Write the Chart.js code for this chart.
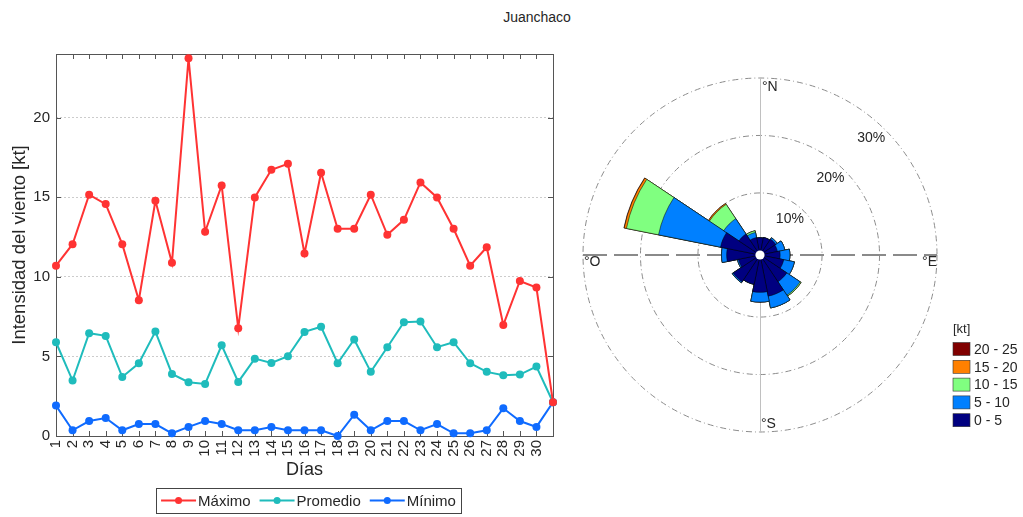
<!DOCTYPE html>
<html>
<head>
<meta charset="utf-8">
<script src="https://cdn.jsdelivr.net/npm/chart.js@4.4.1/dist/chart.umd.min.js"></script>
<style>
  body { margin: 0; background: #fff; width: 1023px; height: 517px; overflow: hidden; position: relative;
         font-family: "Liberation Sans", Arial, sans-serif; color: #262626; }
  #titulo { position: absolute; left: 437px; width: 200px; top: 9px; text-align: center; font-size: 14px; line-height: 17px; }
  #lineas { position: absolute; left: 0; top: 0; }
  #rosa { position: absolute; left: 560px; top: 0; }
</style>
</head>
<body>
<div id="titulo">Juanchaco</div>
<canvas id="lineas" width="575" height="517"></canvas>
<canvas id="rosa" width="463" height="517"></canvas>
<script>
// Datos diarios de viento [kt]
const dias = ['1','2','3','4','5','6','7','8','9','10','11','12','13','14','15','16','17','18','19','20',
  '21','22','23','24','25','26','27','28','29','30','31'];
const etiquetasDias = ['1','2','3','4','5','6','7','8','9','10','11','12','13','14','15','16','17','18','19','20',
  '21','22','23','24','25','26','27','28','29','30',''];
const maximo = [10.7, 12.05, 15.16, 14.57, 12.05, 8.53, 14.78, 10.88, 23.73, 12.83, 15.74, 6.77, 14.99, 16.73, 17.1,
  11.47, 16.54, 13.02, 13.02, 15.16, 12.64, 13.58, 15.93, 14.99, 13.02, 10.7, 11.86, 6.98, 9.74, 9.33, 2.12];
const promedio = [5.89, 3.48, 6.46, 6.29, 3.71, 4.57, 6.56, 3.9, 3.38, 3.27, 5.7, 3.4, 4.86, 4.59, 5.01,
  6.54, 6.86, 4.57, 6.06, 4.03, 5.58, 7.15, 7.19, 5.58, 5.89, 4.57, 4.03, 3.82, 3.86, 4.36, 2.12];
const minimo = [1.91, 0.36, 0.94, 1.13, 0.36, 0.75, 0.75, 0.17, 0.57, 0.94, 0.75, 0.36, 0.36, 0.57, 0.36,
  0.36, 0.36, 0, 1.34, 0.36, 0.94, 0.94, 0.36, 0.75, 0.17, 0.17, 0.36, 1.74, 0.94, 0.57, 2.12];
const ticksY = [0, 5, 10, 15, 20];

// Rosa de vientos: frecuencia [%] por direccion y rango de velocidad
const direcciones = ['N','NNE','NE','ENE','E','ESE','SE','SSE','S','SSO','SO','OSO','O','ONO','NO','NNO'];
const rangos = ['0 - 5', '5 - 10', '10 - 15', '15 - 20', '20 - 25'];
const colores = ['#000080', '#0080ff', '#80ff80', '#ff8000', '#800000'];
const f0a5   = [2.2, 2.3, 2.5, 2.3, 2.7, 3.4, 4.8, 6.5, 5.7, 4.4, 4.8, 3.0, 5.0, 6.2, 3.6, 2.3];
const f5a10  = [0, 0, 0.3, 1.3, 1.7, 1.9, 2.8, 2.1, 1.7, 0, 0.2, 0.2, 0.9, 11.0, 3.2, 0.9];
const f10a15 = [0, 0, 0, 0, 0, 0, 0.2, 0, 0, 0, 0, 0, 0, 5.7, 3.0, 0.3];
const f15a20 = [0, 0, 0, 0, 0, 0, 0, 0, 0, 0, 0, 0, 0, 0.4, 0.2, 0];
const f20a25 = [0, 0, 0, 0, 0, 0, 0, 0, 0, 0, 0, 0, 0, 0.05, 0, 0];
const anillos = [10, 20, 30];

const FUENTE = '"Liberation Sans", Arial, sans-serif';
Chart.defaults.font.family = FUENTE;
Chart.defaults.color = '#262626';

// Caja de ejes con marcas hacia adentro (estilo MATLAB)
const cajaEjes = {
  id: 'cajaEjes',
  beforeDatasetsDraw(chart) {
    const { ctx, chartArea: a, scales } = chart;
    ctx.save();
    ctx.strokeStyle = '#555';
    ctx.lineWidth = 1;
    ctx.strokeRect(Math.round(a.left) + 0.5, Math.round(a.top) + 0.5,
      Math.round(a.right - a.left), Math.round(a.bottom - a.top));
    ctx.beginPath();
    dias.forEach((d, i) => {
      const x = Math.round(scales.x.getPixelForValue(i)) + 0.5;
      ctx.moveTo(x, a.top); ctx.lineTo(x, a.top + 5);
      ctx.moveTo(x, a.bottom); ctx.lineTo(x, a.bottom - 5);
    });
    ticksY.forEach(v => {
      const y = Math.round(scales.y.getPixelForValue(v)) + 0.5;
      ctx.moveTo(a.left, y); ctx.lineTo(a.left + 5, y);
      ctx.moveTo(a.right, y); ctx.lineTo(a.right - 5, y);
    });
    ctx.stroke();
    ctx.restore();
  },
  afterDraw(chart) {
    // leyenda con linea y marcador, dentro de un recuadro
    const { ctx, chartArea: a } = chart;
    ctx.save();
    ctx.font = '15px ' + FUENTE;
    const largo = 35, hueco = 2, sep = 9;
    const items = chart.data.datasets.map(ds => ({
      texto: ds.label, color: ds.borderColor, ancho: ctx.measureText(ds.label).width
    }));
    const total = items.reduce((s, it) => s + largo + hueco + it.ancho, 0) + sep * (items.length - 1);
    let x = (a.left + a.right) / 2 + 4 - total / 2;
    const yTop = 488, alto = 25, yMid = yTop + alto / 2;
    ctx.strokeStyle = '#444';
    ctx.lineWidth = 1;
    ctx.strokeRect(Math.round(x - 5) + 0.5, yTop + 0.5, Math.round(total + 10), alto);
    ctx.textBaseline = 'middle';
    items.forEach(it => {
      ctx.strokeStyle = it.color;
      ctx.lineWidth = 2;
      ctx.beginPath();
      ctx.moveTo(x, yMid); ctx.lineTo(x + largo, yMid);
      ctx.stroke();
      ctx.fillStyle = it.color;
      ctx.beginPath();
      ctx.arc(x + largo / 2, yMid, 3.5, 0, Math.PI * 2);
      ctx.fill();
      ctx.fillStyle = '#262626';
      ctx.fillText(it.texto, x + largo + hueco, yMid + 1);
      x += largo + hueco + it.ancho + sep;
    });
    ctx.restore();
  }
};

function serie(label, data, color) {
  return {
    label: label,
    data: data,
    borderColor: color,
    backgroundColor: color,
    borderWidth: 2,
    pointRadius: 4,
    pointBorderWidth: 0,
    clip: false,
  };
}

new Chart(document.getElementById('lineas'), {
  type: 'line',
  data: {
    labels: dias,
    datasets: [
      serie('Máximo', maximo, '#ff3333'),
      serie('Promedio', promedio, '#1fbcbc'),
      serie('Mínimo', minimo, '#0f6bff'),
    ],
  },
  options: {
    responsive: false,
    animation: false,
    layout: { padding: { top: 54, right: 21, bottom: 0, left: 0 } },
    plugins: { legend: { display: false }, tooltip: { enabled: false } },
    scales: {
      x: {
        grid: { display: false, drawTicks: false },
        border: { display: false },
        ticks: {
          autoSkip: false, minRotation: 90, maxRotation: 90, padding: 4,
          font: { size: 15 },
          callback: (v, i) => etiquetasDias[i],
        },
        title: { display: true, text: 'Días', font: { size: 18 }, padding: { top: 0, bottom: 36 } },
        afterFit: s => { s.height = 81; },
      },
      y: {
        min: 0,
        max: 24,
        grid: {
          drawTicks: false,
          color: c => (c.tick && ticksY.includes(c.tick.value) && c.tick.value > 0) ? '#cccccc' : 'rgba(0,0,0,0)',
        },
        border: { display: false, dash: [2, 2] },
        ticks: {
          stepSize: 5, padding: 6, font: { size: 15 },
          callback: v => ticksY.includes(v) ? v : '',
        },
        title: { display: true, text: 'Intensidad del viento [kt]', font: { size: 18.5 }, padding: { top: 9, bottom: 0 } },
        afterFit: s => { s.width = 56; },
      },
    },
  },
  plugins: [cajaEjes],
});

// Rosa de vientos: sectores acumulados (el rango menor se dibuja encima)
const bins = [f0a5, f5a10, f10a15, f15a20, f20a25];
const acumulado = [];
bins.forEach((b, k) => {
  acumulado.push(b.map((v, i) => (k > 0 ? acumulado[k - 1][i] : 0) + v));
});

const decoracionRosa = {
  id: 'decoracionRosa',
  beforeDatasetsDraw(chart) {
    const r = chart.scales.r;
    const R = r.getDistanceFromCenterForValue(30);
    const cx = r.xCenter, cy = r.yCenter;
    const ctx = chart.ctx;
    ctx.save();
    ctx.strokeStyle = '#8a8a8a';
    ctx.lineWidth = 2;
    ctx.setLineDash([24, 7]);
    ctx.beginPath();
    ctx.moveTo(cx - R, cy); ctx.lineTo(cx + R, cy);
    ctx.stroke();
    ctx.setLineDash([]);
    ctx.strokeStyle = '#c0c0c0';
    ctx.lineWidth = 1;
    ctx.beginPath();
    ctx.moveTo(cx + 0.5, cy - R); ctx.lineTo(cx + 0.5, cy + R);
    ctx.stroke();
    ctx.restore();
  },
  afterDatasetsDraw(chart) {
    const r = chart.scales.r;
    const ctx = chart.ctx;
    ctx.save();
    ctx.fillStyle = '#fff';
    ctx.beginPath();
    ctx.arc(r.xCenter, r.yCenter, r.getDistanceFromCenterForValue(0), 0, Math.PI * 2);
    ctx.fill();
    ctx.restore();
  },
  afterDraw(chart) {
    const r = chart.scales.r;
    const R = r.getDistanceFromCenterForValue(30);
    const cx = r.xCenter, cy = r.yCenter;
    const ctx = chart.ctx;
    ctx.save();
    ctx.fillStyle = '#262626';
    ctx.font = '14px ' + FUENTE;
    // etiquetas de porcentaje a 45 grados
    ctx.textAlign = 'right';
    ctx.textBaseline = 'top';
    anillos.forEach(p => {
      const d = r.getDistanceFromCenterForValue(p);
      ctx.fillText(p + '%', cx + d * Math.SQRT1_2, cy - d * Math.SQRT1_2 + 1);
    });
    // puntos cardinales
    ctx.textBaseline = 'middle';
    ctx.textAlign = 'left';
    ctx.fillText('°N', cx + 2, cy - R + 9);
    ctx.fillText('°S', cx + 1, cy + R - 8);
    ctx.fillText('°O', cx - R + 1, cy + 7);
    ctx.textAlign = 'right';
    ctx.fillText('°E', cx + R, cy + 7);
    // leyenda de rangos
    const lx = 393;
    ctx.textAlign = 'left';
    ctx.font = '13px ' + FUENTE;
    ctx.fillText('[kt]', lx, 329);
    ctx.font = '14px ' + FUENTE;
    const ds = chart.data.datasets;
    for (let k = ds.length - 1; k >= 0; k--) {
      const y = 349 + (ds.length - 1 - k) * 17.8;
      ctx.fillStyle = ds[k].backgroundColor;
      ctx.fillRect(lx, y - 6.5, 17, 13);
      ctx.strokeStyle = '#333';
      ctx.lineWidth = 0.6;
      ctx.strokeRect(lx, y - 6.5, 17, 13);
      ctx.fillStyle = '#262626';
      ctx.fillText(ds[k].label, lx + 21, y + 1);
    }
    ctx.restore();
  }
};

new Chart(document.getElementById('rosa'), {
  type: 'polarArea',
  data: {
    labels: direcciones,
    datasets: acumulado.map((vals, k) => ({
      label: rangos[k],
      data: vals,
      backgroundColor: colores[k],
      borderColor: 'rgba(0,0,0,0.85)',
      borderWidth: 0.6,
    })),
  },
  options: {
    responsive: false,
    animation: false,
    layout: { padding: { left: 23, top: 78, right: 86, bottom: 85 } },
    plugins: { legend: { display: false }, tooltip: { enabled: false } },
    scales: {
      r: {
        min: -0.8,
        max: 30,
        beginAtZero: false,
        startAngle: -11.25,
        ticks: { display: false, stepSize: 10 },
        grid: {
          lineWidth: 1,
          color: c => (c.tick && anillos.includes(c.tick.value)) ? '#8c8c8c' : 'rgba(0,0,0,0)',
        },
        border: { dash: [6, 3, 1, 3] },
        angleLines: { display: false },
        pointLabels: { display: false },
      },
    },
  },
  plugins: [decoracionRosa],
});
</script>
</body>
</html>
